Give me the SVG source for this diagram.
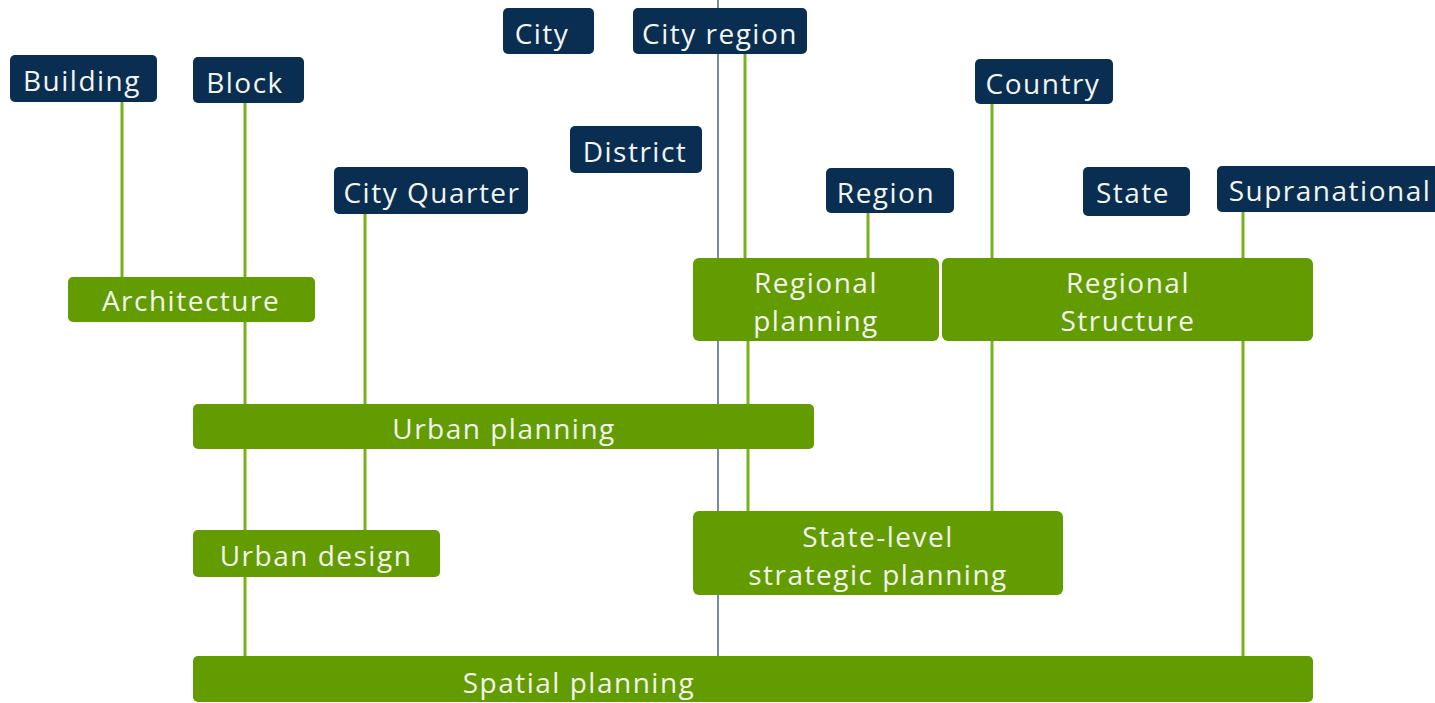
<svg xmlns="http://www.w3.org/2000/svg" width="1435" height="703" viewBox="0 0 1435 703">
<style>
.scale rect{fill:#0a2d52}
.plan rect{fill:#639c00}
text{font-family:"Open Sans","Noto Sans",sans-serif;font-size:28px;letter-spacing:1.5px;fill:#f2f5ee;text-anchor:middle}
.conn line{stroke:#76b21a;stroke-width:3}
</style>
<rect width="1435" height="703" fill="#fff"/>
<line x1="718" y1="0" x2="718" y2="656" stroke="#1d3e66" stroke-width="1.2"/>
<g class="conn" id="connectors">
<line x1="122" y1="102" x2="122" y2="277"/>
<line x1="245" y1="103" x2="245" y2="277"/>
<line x1="245" y1="322" x2="245" y2="656"/>
<line x1="365" y1="214" x2="365" y2="530"/>
<line x1="745" y1="54" x2="745" y2="258"/>
<line x1="748" y1="341" x2="748" y2="511"/>
<line x1="868" y1="213" x2="868" y2="258"/>
<line x1="992" y1="104" x2="992" y2="258"/>
<line x1="992" y1="341" x2="992" y2="511"/>
<line x1="1243" y1="212" x2="1243" y2="258"/>
<line x1="1243" y1="341" x2="1243" y2="656"/>
</g>
<g class="scale">
<g id="building"><rect x="10" y="55" width="147" height="47" rx="5"/><text x="82" y="91">Building</text></g>
<g id="block"><rect x="193" y="57" width="111" height="46" rx="5"/><text x="245" y="93">Block</text></g>
<g id="city"><rect x="503" y="8" width="91" height="46" rx="5"/><text x="542" y="44">City</text></g>
<g id="city-region"><rect x="633" y="8" width="174" height="46" rx="5"/><text x="720" y="44">City region</text></g>
<g id="district"><rect x="570" y="126" width="132" height="47" rx="5"/><text x="635" y="162">District</text></g>
<g id="city-quarter"><rect x="334" y="167" width="194" height="47" rx="5"/><text x="432" y="203">City Quarter</text></g>
<g id="country"><rect x="975" y="59" width="138" height="45" rx="5"/><text x="1043" y="94">Country</text></g>
<g id="region"><rect x="826" y="168" width="128" height="45" rx="5"/><text x="886" y="203">Region</text></g>
<g id="state"><rect x="1083" y="167" width="107" height="49" rx="5"/><text x="1133" y="203">State</text></g>
<g id="supranational"><rect x="1217" y="166" width="225" height="46" rx="5"/><text x="1330" y="201">Supranational</text></g>
</g>
<g class="plan">
<g id="architecture"><rect x="68" y="277" width="247" height="45" rx="5"/><text x="191" y="311">Architecture</text></g>
<g id="regional-planning"><rect x="693" y="258" width="246" height="83" rx="6"/><text x="816" y="293">Regional</text><text x="816" y="331">planning</text></g>
<g id="regional-structure"><rect x="942" y="258" width="371" height="83" rx="6"/><text x="1128" y="293">Regional</text><text x="1128" y="331">Structure</text></g>
<g id="urban-planning"><rect x="193" y="404" width="621" height="45" rx="5"/><text x="504" y="439">Urban planning</text></g>
<g id="urban-design"><rect x="193" y="530" width="247" height="47" rx="5"/><text x="316" y="566">Urban design</text></g>
<g id="state-level"><rect x="693" y="511" width="370" height="84" rx="6"/><text x="878" y="547">State-level</text><text x="878" y="585">strategic planning</text></g>
<g id="spatial-planning"><rect x="193" y="656" width="1120" height="46" rx="5"/><text x="579" y="693">Spatial planning</text></g>
</g>
</svg>
